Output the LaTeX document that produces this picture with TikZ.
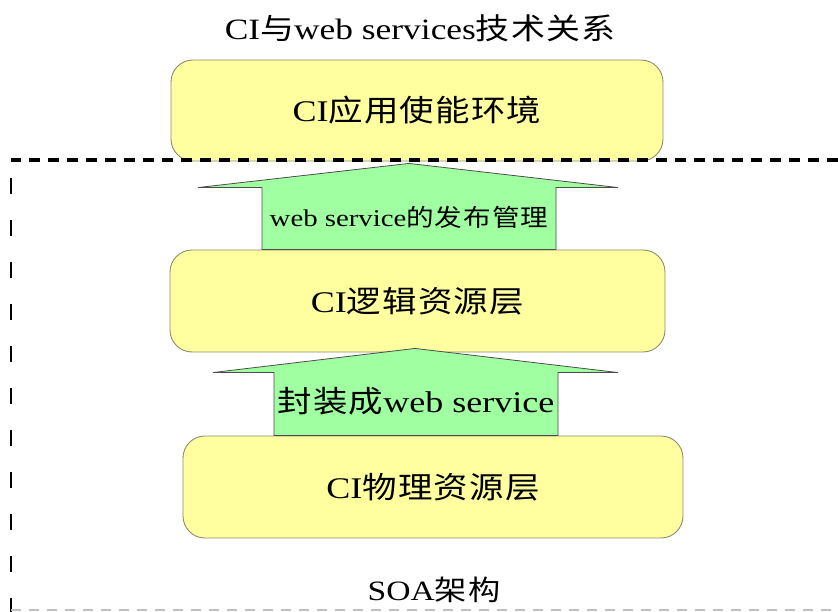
\documentclass[tikz,border=0pt]{standalone}
\usepackage{fontspec}
\setmainfont{Liberation Serif}[FakeStretch=1.2]
\newfontfamily\cjk{Noto Sans CJK SC}[FakeStretch=1.15,LetterSpace=4]
\newcommand\zh[1]{{\cjk #1}}
\usetikzlibrary{calc}
\definecolor{layerfill}{RGB}{255,255,160}
\definecolor{layerline}{RGB}{140,140,110}
\definecolor{arrowfill}{RGB}{160,255,160}

\begin{document}
\begin{tikzpicture}[
  x=1pt, y=-1pt,
  layer/.style={
    draw=layerline, fill=layerfill, line width=0.9pt,
    rounded corners=22pt, inner sep=0pt,
    font=\fontsize{30}{36}\selectfont
  },
  blockarrow/.style={draw=black!70, fill=arrowfill, line width=0.8pt},
  caption/.style={font=\fontsize{28}{34}\selectfont},
  soaframe/.style={line width=3.2pt, dash pattern=on 11pt off 8pt}
]
\useasboundingbox (0,0) rectangle (838,612);

\node[caption, font=\fontsize{29.5}{34}\selectfont] (title) at (420,28) {CI\zh{与}web services\zh{技术关系}};

\node[layer, minimum width=492pt, minimum height=101pt] (env) at (417,110.5) {CI\zh{应用使能环境}};

% SOA frame
\draw[soaframe] (838,160) -- (11,160);
\draw[line width=2.2pt, dash pattern=on 16pt off 26pt] (11,178) -- (11,612);
\draw[black!25, line width=1.2pt, dash pattern=on 10pt off 8pt] (11,610) -- (838,610);

\node[layer, minimum width=495pt, minimum height=102pt] (logic) at (417.5,301) {CI\zh{逻辑资源层}};
\node[layer, minimum width=500pt, minimum height=102pt] (phys) at (433,487) {CI\zh{物理资源层}};

% publish arrow
\coordinate (c1) at (409,0);
\draw[blockarrow] ($(c1 |- logic.north)+(-147,0)$) -- ++(0,-62) -- ++(-64,0)
  -- ($(c1 |- env.south)+(0,2)$) -- ($(c1 |- logic.north)+(209,-62)$) -- ++(-62,0)
  -- ($(c1 |- logic.north)+(147,0)$) -- cycle;
\node[font=\fontsize{24}{28}\selectfont] (publish) at (409,217) {web service\zh{的发布管理}};

% wrap arrow
\coordinate (c2) at (416,0);
\draw[blockarrow] ($(c2 |- phys.north)+(-142,0)$) -- ++(0,-63) -- ++(-61,0)
  -- ($(c2 |- logic.south)+(-1,-4)$) -- ($(c2 |- phys.north)+(202,-63)$) -- ++(-60,0)
  -- ($(c2 |- phys.north)+(142,0)$) -- cycle;
\node[font=\fontsize{30}{36}\selectfont] (wrap) at (416,401) {\zh{封装成}web service};

\node[caption] (soa) at (434,590) {SOA\zh{架构}};
\end{tikzpicture}
\end{document}
